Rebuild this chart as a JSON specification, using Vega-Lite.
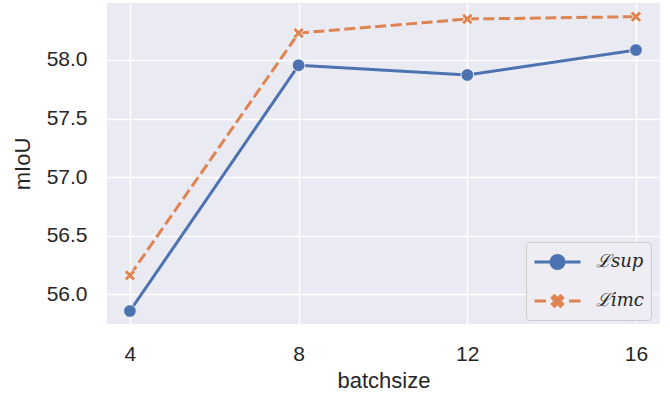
{
  "$schema": "https://vega.github.io/schema/vega-lite/v6.json",
  "width": 553,
  "height": 321,
  "autosize": {"type": "none"},
  "padding": {"left": 107, "top": 3, "right": 10, "bottom": 75},
  "background": "white",
  "config": {
    "view": {"fill": "#EAEAF2", "stroke": null},
    "font": "Liberation Sans",
    "axis": {
      "grid": true,
      "gridColor": "white",
      "gridWidth": 1.5,
      "domain": false,
      "ticks": false,
      "labelFont": "Liberation Sans",
      "titleFont": "Liberation Sans",
      "labelFontSize": 21,
      "titleFontSize": 22,
      "labelColor": "#262626",
      "titleColor": "#262626",
      "titleFontWeight": "normal"
    }
  },
  "data": {
    "values": [
      {"batchsize": 4, "mIoU": 55.855, "series": "sup"},
      {"batchsize": 8, "mIoU": 57.955, "series": "sup"},
      {"batchsize": 12, "mIoU": 57.872, "series": "sup"},
      {"batchsize": 16, "mIoU": 58.085, "series": "sup"},
      {"batchsize": 4, "mIoU": 56.16, "series": "imc"},
      {"batchsize": 8, "mIoU": 58.23, "series": "imc"},
      {"batchsize": 12, "mIoU": 58.35, "series": "imc"},
      {"batchsize": 16, "mIoU": 58.37, "series": "imc"}
    ]
  },
  "encoding": {
    "x": {
      "field": "batchsize",
      "type": "quantitative",
      "scale": {"domain": [3.456, 16.57], "nice": false, "zero": false},
      "axis": {"values": [4, 8, 12, 16], "title": "batchsize", "labelPadding": 19, "titlePadding": 6}
    },
    "y": {
      "field": "mIoU",
      "type": "quantitative",
      "scale": {"domain": [55.744, 58.487], "nice": false, "zero": false},
      "axis": {"values": [56.0, 56.5, 57.0, 57.5, 58.0], "format": ".1f", "title": "mIoU", "labelPadding": 20, "titlePadding": 12}
    }
  },
  "resolve": {"scale": {"shape": "independent", "fill": "independent", "stroke": "independent", "color": "independent", "strokeDash": "independent"}, "legend": {"shape": "independent"}},
  "layer": [
    {
      "mark": {"type": "line", "strokeWidth": 3},
      "encoding": {
        "color": {"field": "series", "type": "nominal", "scale": {"domain": ["sup", "imc"], "range": ["#4C72B0", "#DD8452"]}, "legend": null},
        "strokeDash": {"field": "series", "type": "nominal", "scale": {"domain": ["sup", "imc"], "range": [[1, 0], [11, 4.5]]}, "legend": null}
      }
    },
    {
      "mark": {"type": "point", "filled": true, "opacity": 1, "size": 160, "stroke": "white", "strokeWidth": 0.8},
      "encoding": {
        "color": {"field": "series", "type": "nominal", "scale": {"domain": ["sup", "imc"], "range": ["#4C72B0", "#DD8452"]}, "legend": null},
        "shape": {"field": "series", "type": "nominal", "scale": {"domain": ["sup", "imc"], "range": ["circle", "M-0.9,-0.5L-0.5,-0.9L0,-0.4L0.5,-0.9L0.9,-0.5L0.4,0L0.9,0.5L0.5,0.9L0,0.4L-0.5,0.9L-0.9,0.5L-0.4,0Z"]}, "legend": null}
      }
    },
    {
      "mark": {"type": "point", "filled": true, "opacity": 0},
      "encoding": {
        "fill": {"field": "series", "type": "nominal", "scale": {"domain": ["sup", "imc"], "range": ["#4C72B0", "#DD8452"]}, "legend": null},
        "stroke": {"field": "series", "type": "nominal", "scale": {"domain": ["sup", "imc"], "range": ["#4C72B0", "#DD8452"]}, "legend": null},
        "shape": {
          "field": "series",
          "type": "nominal",
          "scale": {"domain": ["sup", "imc"], "range": [
            "M-1,0H3M1.565,0A0.565,0.565 0 1,1 0.435,0A0.565,0.565 0 1,1 1.565,0Z",
            "M-1,0H0M2,0H3M0.55,-0.27L0.73,-0.45L1,-0.18L1.27,-0.45L1.45,-0.27L1.18,0L1.45,0.27L1.27,0.45L1,0.18L0.73,0.45L0.55,0.27L0.82,0Z"
          ]},
          "legend": {
            "orient": "none",
            "legendX": 419,
            "legendY": 239,
            "title": null,
            "labelExpr": "datum.value == 'sup' ? 'ℒsup' : 'ℒimc'",
            "labelFontSize": 18,
            "labelFont": "DejaVu Serif",
            "labelFontStyle": "italic",
            "labelColor": "#262626",
            "symbolSize": 529,
            "symbolOpacity": 1,
            "symbolStrokeWidth": 3,
            "rowPadding": 13,
            "labelOffset": 37,
            "padding": 7,
            "fillColor": "#EDEDF3",
            "strokeColor": "#CCCCCC",
            "cornerRadius": 4
          }
        }
      }
    }
  ]
}
